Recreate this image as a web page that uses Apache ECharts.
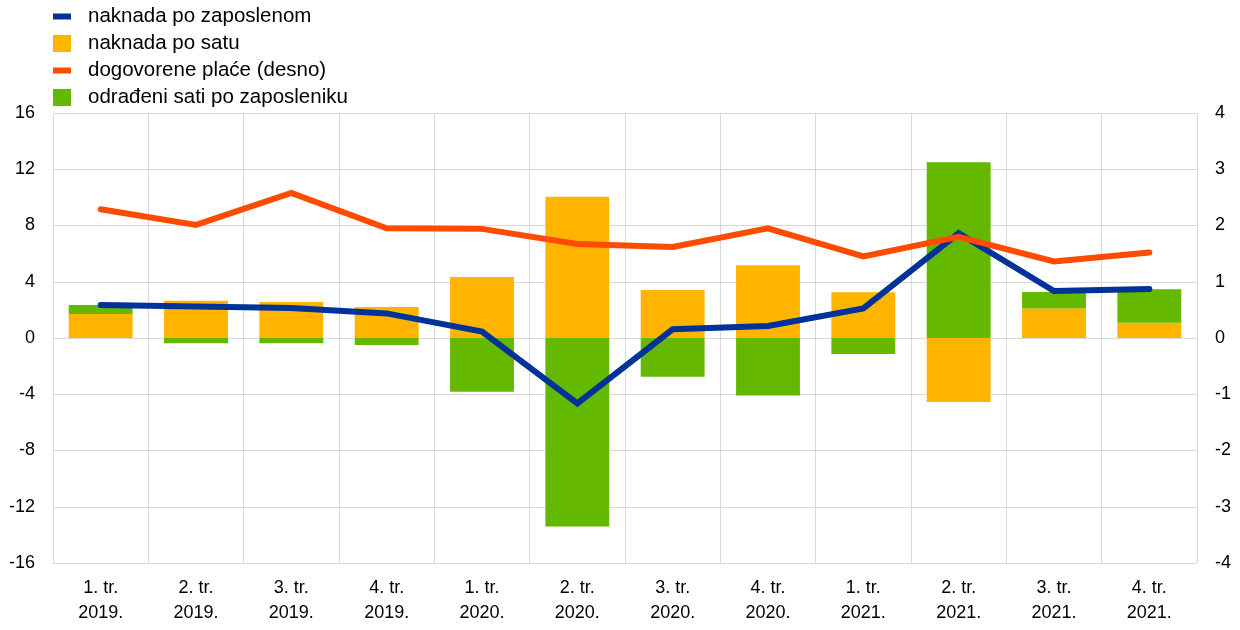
<!DOCTYPE html>
<html>
<head>
<meta charset="utf-8">
<script src="https://cdn.jsdelivr.net/npm/echarts@6/dist/echarts.min.js"></script>
<style>html,body{margin:0;padding:0;background:#fff}#c{width:1240px;height:630px}</style>
</head>
<body>
<div id="c"></div>
<script>
var categories = ['1. tr.\n2019.','2. tr.\n2019.','3. tr.\n2019.','4. tr.\n2019.','1. tr.\n2020.','2. tr.\n2020.','3. tr.\n2020.','4. tr.\n2020.','1. tr.\n2021.','2. tr.\n2021.','3. tr.\n2021.','4. tr.\n2021.'];
var naknadaPoZaposlenom = [2.35, 2.24, 2.13, 1.75, 0.45, -4.65, 0.62, 0.85, 2.1, 7.45, 3.34, 3.48];
var naknadaPoSatu = [1.7, 2.65, 2.56, 2.2, 4.34, 10.05, 3.41, 5.17, 3.25, -4.55, 2.09, 1.09];
var dogovorenePlace = [2.29, 2.01, 2.58, 1.95, 1.94, 1.67, 1.62, 1.95, 1.45, 1.80, 1.36, 1.52];
var odradeniSati = [0.65, -0.38, -0.38, -0.5, -3.82, -13.4, -2.75, -4.08, -1.14, 12.5, 1.18, 2.37];

var FONT = '"Liberation Sans", Arial, sans-serif';
var chart = echarts.init(document.getElementById('c'), null, {renderer: 'canvas'});
chart.setOption({
  animation: false,
  textStyle: {fontFamily: FONT},
  legend: {
    orient: 'vertical', left: 53, top: 6, padding: 0,
    itemWidth: 18, itemHeight: 17, itemGap: 6,
    textStyle: {fontFamily: FONT, fontSize: 20.5, color: '#000', padding: [0, 0, 0, 12]},
    data: [
      {name: 'naknada po zaposlenom', icon: 'path://M0,0h18v6h-18z'},
      {name: 'naknada po satu', icon: 'rect'},
      {name: 'dogovorene plaće (desno)', icon: 'path://M0,0h18v6h-18z'},
      {name: 'odrađeni sati po zaposleniku', icon: 'rect'}
    ]
  },
  grid: {left: 53, right: 43, top: 113, bottom: 67, containLabel: false},
  xAxis: {
    type: 'category', data: categories, boundaryGap: true,
    axisLine: {show: false}, axisTick: {show: false},
    axisLabel: {fontFamily: FONT, fontSize: 18, color: '#000', lineHeight: 25, margin: 13, interval: 0},
    splitLine: {show: true, interval: 0, lineStyle: {color: '#d9d9d9', width: 1}}
  },
  yAxis: [
    {type: 'value', min: -16, max: 16, interval: 4,
     axisLine: {show: false}, axisTick: {show: false},
     axisLabel: {fontFamily: FONT, fontSize: 18, color: '#000', margin: 18},
     splitLine: {show: true, lineStyle: {color: '#d9d9d9', width: 1}}},
    {type: 'value', min: -4, max: 4, interval: 1,
     axisLine: {show: false}, axisTick: {show: false},
     axisLabel: {fontFamily: FONT, fontSize: 18, color: '#000', margin: 18},
     splitLine: {show: false}}
  ],
  series: [
    {name: 'naknada po satu', type: 'bar', stack: 'a', data: naknadaPoSatu, barCategoryGap: '33%',
     itemStyle: {color: '#FFB400'}, z: 2},
    {name: 'odrađeni sati po zaposleniku', type: 'bar', stack: 'a', data: odradeniSati,
     itemStyle: {color: '#65B800'}, z: 2},
    {name: 'naknada po zaposlenom', type: 'line', data: naknadaPoZaposlenom, showSymbol: false, symbol: 'none',
     lineStyle: {color: '#003299', width: 6, cap: 'round', join: 'miter'}, itemStyle: {color: '#003299'}, z: 3},
    {name: 'dogovorene plaće (desno)', type: 'line', yAxisIndex: 1, data: dogovorenePlace, showSymbol: false, symbol: 'none',
     lineStyle: {color: '#FF4B00', width: 6, cap: 'round', join: 'miter'}, itemStyle: {color: '#FF4B00'}, z: 4}
  ]
});
</script>
</body>
</html>
